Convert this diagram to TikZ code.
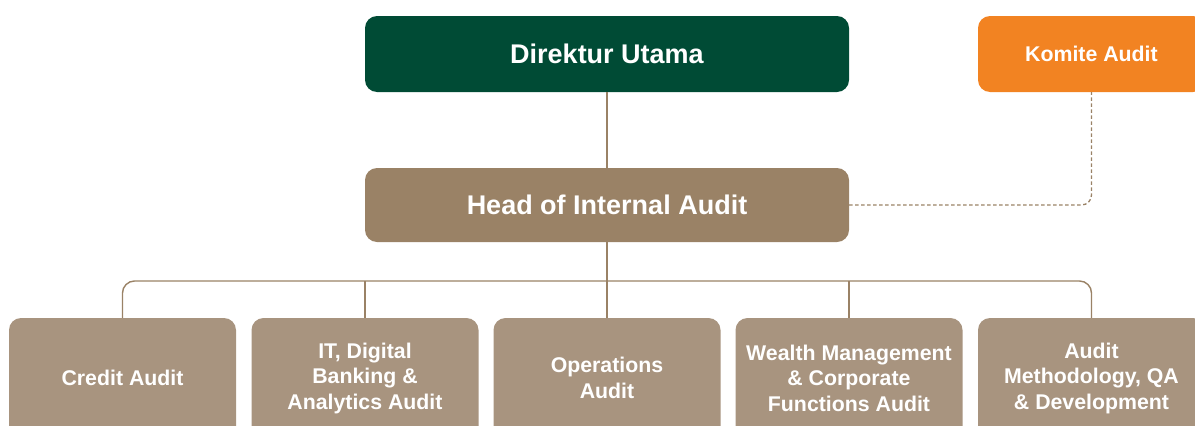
\documentclass[tikz,border=0pt]{standalone}
\usepackage{fontspec}
\setmainfont{Liberation Sans}
\definecolor{dgreen}{HTML}{004B35}
\definecolor{orng}{HTML}{F28322}
\definecolor{headbrown}{HTML}{9A8266}
\definecolor{lightbrown}{HTML}{A8947F}
\definecolor{linec}{HTML}{9A8266}
\begin{document}
\begin{tikzpicture}[x=1pt,y=-1pt,
  topbox/.style={rounded corners=12pt, minimum width=484pt, text=white, font=\bfseries\fontsize{27}{31}\selectfont, inner sep=0pt},
  smallbox/.style={rounded corners=12pt, minimum width=227pt, text=white, font=\bfseries\fontsize{21.3}{25.5}\selectfont, align=center, inner sep=0pt},
  conn/.style={draw=linec, line width=1.4pt},
  dotconn/.style={draw=linec, line width=1.3pt, dash pattern=on 3.5pt off 2.5pt, rounded corners=10pt}]
\useasboundingbox (0,0) rectangle (1195,426);
\node[topbox, fill=dgreen, minimum height=76pt] (dir) at (607,54) {Direktur Utama};
\node[smallbox, fill=orng, minimum height=76pt] (kom) at (1091.5,54) {Komite Audit};
\node[topbox, fill=headbrown, minimum height=74pt] (head) at (607,205) {Head of Internal Audit};
\node[smallbox, fill=lightbrown, minimum height=120pt] (c1) at (122.5,378) {Credit Audit};
\node[smallbox, fill=lightbrown, minimum height=120pt] (c2) at (365,378) {IT, Digital\\Banking \&\\Analytics Audit};
\node[smallbox, fill=lightbrown, minimum height=120pt] (c3) at (607,378) {Operations\\Audit};
\node[smallbox, fill=lightbrown, minimum height=120pt] (c4) at (849,378) {Wealth Management\\\& Corporate\\Functions Audit};
\node[smallbox, fill=lightbrown, minimum height=120pt] (c5) at (1091.5,378) {Audit\\Methodology, QA\\\& Development};
\coordinate (bus) at (607,281);
\draw[conn] (dir.south) -- (head.north);
\draw[conn] (head.south) -- (c3.north);
\draw[conn, rounded corners=12pt] (c1.north) -- (c1.north |- bus) -- (c5.north |- bus) -- (c5.north);
\draw[conn] (c2.north) -- (c2.north |- bus);
\draw[conn] (c4.north) -- (c4.north |- bus);
\draw[dotconn] (head.east) -| (kom.south);
\end{tikzpicture}
\end{document}
